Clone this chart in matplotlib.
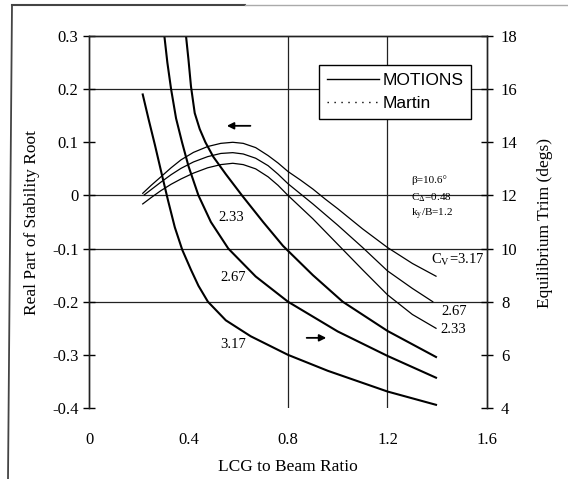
import matplotlib
matplotlib.use('Agg')
import matplotlib.pyplot as plt
from matplotlib.lines import Line2D

plt.rcParams['font.family'] = ['Liberation Serif', 'DejaVu Serif']
plt.rcParams['mathtext.fontset'] = 'stix'
plt.rcParams['axes.unicode_minus'] = False

# Real part of the stability root (left axis) vs LCG/B, one curve per speed coefficient
stab_x_317 = [0.216, 0.25, 0.289, 0.33, 0.37, 0.42, 0.477, 0.53, 0.578, 0.62, 0.67,
              0.72, 0.76, 0.80, 0.85, 0.90, 0.95, 1.0, 1.1, 1.2, 1.3, 1.395]
stab_317 = [0.004, 0.019, 0.035, 0.052, 0.067, 0.081, 0.092, 0.098, 0.100, 0.098, 0.090,
            0.075, 0.061, 0.045, 0.029, 0.012, -0.007, -0.025, -0.063, -0.098, -0.128, -0.152]

stab_x_267 = [0.222, 0.25, 0.289, 0.33, 0.37, 0.42, 0.477, 0.53, 0.578, 0.62, 0.67,
              0.72, 0.76, 0.80, 0.85, 0.90, 0.95, 1.0, 1.1, 1.2, 1.3, 1.382]
stab_267 = [0.001, 0.011, 0.025, 0.039, 0.051, 0.063, 0.073, 0.079, 0.0805, 0.078, 0.070,
            0.056, 0.040, 0.022, 0.003, -0.016, -0.036, -0.056, -0.098, -0.142, -0.175, -0.200]

stab_x_233 = [0.216, 0.25, 0.289, 0.33, 0.37, 0.42, 0.477, 0.53, 0.578, 0.62, 0.67,
              0.72, 0.76, 0.80, 0.85, 0.90, 0.95, 1.0, 1.1, 1.2, 1.3, 1.395]
stab_233 = [-0.016, -0.004, 0.009, 0.021, 0.031, 0.042, 0.052, 0.058, 0.0605, 0.058, 0.050,
            0.035, 0.019, 0.000, -0.022, -0.044, -0.068, -0.092, -0.140, -0.187, -0.224, -0.250]

# Equilibrium trim in degrees (right axis)
trim_x_317 = [0.216, 0.24, 0.265, 0.29, 0.318, 0.345, 0.375, 0.41, 0.44, 0.478, 0.55,
              0.65, 0.80, 0.96, 1.2, 1.395]
trim_317 = [15.8, 14.85, 13.9, 12.9, 11.8, 10.8, 9.95, 9.2, 8.6, 8.0, 7.3,
            6.7, 6.0, 5.4, 4.62, 4.12]

trim_x_267 = [0.303, 0.315, 0.33, 0.35, 0.374, 0.40, 0.44, 0.49, 0.56, 0.67, 0.80,
              1.0, 1.2, 1.395]
trim_267 = [18.0, 17.0, 16.0, 14.9, 14.0, 13.1, 12.0, 11.0, 10.0, 8.95, 8.0,
            6.88, 5.96, 5.14]

trim_x_233 = [0.39, 0.40, 0.41, 0.425, 0.445, 0.468, 0.50, 0.55, 0.615, 0.70, 0.78,
              0.90, 1.02, 1.2, 1.395]
trim_233 = [18.0, 17.1, 16.1, 15.1, 14.5, 14.0, 13.45, 12.8, 12.0, 11.0, 10.1,
            9.0, 8.0, 6.9, 5.92]

x_ticks = [0, 0.4, 0.8, 1.2, 1.6]
x_labels = ['0', '0.4', '0.8', '1.2', '1.6']
y_ticks = [-0.4, -0.3, -0.2, -0.1, 0, 0.1, 0.2, 0.3]
y_labels = ['-0.4', '-0.3', '-0.2', '-0.1', '0', '0.1', '0.2', '0.3']
trim_ticks = [4, 6, 8, 10, 12, 14, 16, 18]

fig = plt.figure(figsize=(5.68, 4.79), dpi=100)
W, H = 568.0, 479.0
ax = fig.add_axes([89 / W, 1 - 408 / H, 398 / W, 372 / H])
ax2 = ax.twinx()

ax.set_xlim(0, 1.6)
ax.set_ylim(-0.4, 0.3)
ax2.set_ylim(4, 18)

# partial grid, as on the original figure
for gy in [0.2, 0, -0.1, -0.2]:
    ax.axhline(gy, color='#222222', lw=0.9, zorder=1)
for gx in [0.8, 1.2]:
    ax.axvline(gx, color='#222222', lw=0.9, zorder=1)

ax.plot(stab_x_317, stab_317, color='black', lw=0.9)
ax.plot(stab_x_267, stab_267, color='black', lw=0.9)
ax.plot(stab_x_233, stab_233, color='black', lw=0.9)

ax2.plot(trim_x_317, trim_317, color='black', lw=1.5)
ax2.plot(trim_x_267, trim_267, color='black', lw=1.5)
ax2.plot(trim_x_233, trim_233, color='black', lw=1.5)

for a in (ax, ax2):
    a.spines['bottom'].set_visible(False)
    for s in ('left', 'right', 'top'):
        a.spines[s].set_linewidth(1.0)
        a.spines[s].set_color('#222222')

ax.set_xticks(x_ticks)
ax.set_xticklabels(x_labels)
ax.tick_params(axis='x', length=0, pad=17, labelsize=12)
ax.set_yticks(y_ticks)
ax.set_yticklabels(y_labels)
ax.tick_params(axis='y', direction='inout', length=9, width=1.0, pad=3, labelsize=12)
ax2.set_yticks(trim_ticks)
ax2.tick_params(axis='y', direction='inout', length=8, width=1.0, pad=6, labelsize=12)

fig.text(288 / W, 1 - 467 / H, 'LCG to Beam Ratio', ha='center', va='center', fontsize=12.5)
fig.text(32 / W, 1 - 222 / H, 'Real Part of Stability Root', rotation=90,
         ha='center', va='center', fontsize=12.5)
fig.text(545 / W, 1 - 223 / H, 'Equilibrium Trim (degs)', rotation=90,
         ha='center', va='center', fontsize=12.5)

# curve labels
ax.text(0.571, -0.041, '2.33', ha='center', va='center', fontsize=10.5)
ax.text(0.578, -0.155, '2.67', ha='center', va='center', fontsize=10.5)
ax.text(0.578, -0.281, '3.17', ha='center', va='center', fontsize=10.5)
ax.text(1.375, -0.1215, r'C$_\mathrm{V}$=3.17', ha='left', va='center', fontsize=10.5)
ax.text(1.415, -0.2175, '2.67', ha='left', va='center', fontsize=10.5)
ax.text(1.411, -0.253, '2.33', ha='left', va='center', fontsize=10.5)

ax.text(1.294, 0.029, 'β=10.6°', ha='left', va='center', fontsize=8)
ax.text(1.294, -0.005, r'C$_\Delta$=0.48', ha='left', va='center', fontsize=8)
ax.text(1.294, -0.036, r'k$_\mathrm{y}$/B=1.2', ha='left', va='center', fontsize=8)

# arrows pointing to the axis each family belongs to
ax.annotate('', xy=(0.543, 0.131), xytext=(0.66, 0.131),
            arrowprops=dict(arrowstyle='-|>', color='black', lw=1.3, mutation_scale=10))
ax.annotate('', xy=(0.965, -0.268), xytext=(0.864, -0.268),
            arrowprops=dict(arrowstyle='-|>', color='black', lw=1.3, mutation_scale=10))

handles = [Line2D([], [], color='black', lw=1.0),
           Line2D([], [], color='black', lw=1.0, ls=(0, (1, 4)))]
leg = ax2.legend(handles, ['MOTIONS', 'Martin'], loc='upper left',
                 bbox_to_anchor=(0.578, 0.922), frameon=True, fancybox=False,
                 edgecolor='black', framealpha=1,
                 prop={'family': 'Liberation Sans', 'size': 12.5},
                 handlelength=3.0, handletextpad=0.2, borderpad=0.45,
                 labelspacing=0.45, borderaxespad=0)
leg.get_frame().set_linewidth(1.0)

# page frame around the figure
fig.add_artist(Line2D([12 / W, 8 / W], [1 - 5 / H, 0], transform=fig.transFigure,
                      color='#444444', lw=1.3))
fig.add_artist(Line2D([12 / W, 245 / W], [1 - 5 / H, 1 - 5 / H], transform=fig.transFigure,
                      color='#444444', lw=1.5))
fig.add_artist(Line2D([245 / W, 1], [1 - 5 / H, 1 - 5 / H], transform=fig.transFigure,
                      color='#aaaaaa', lw=1.0))

fig.savefig('out.png', dpi=100)
